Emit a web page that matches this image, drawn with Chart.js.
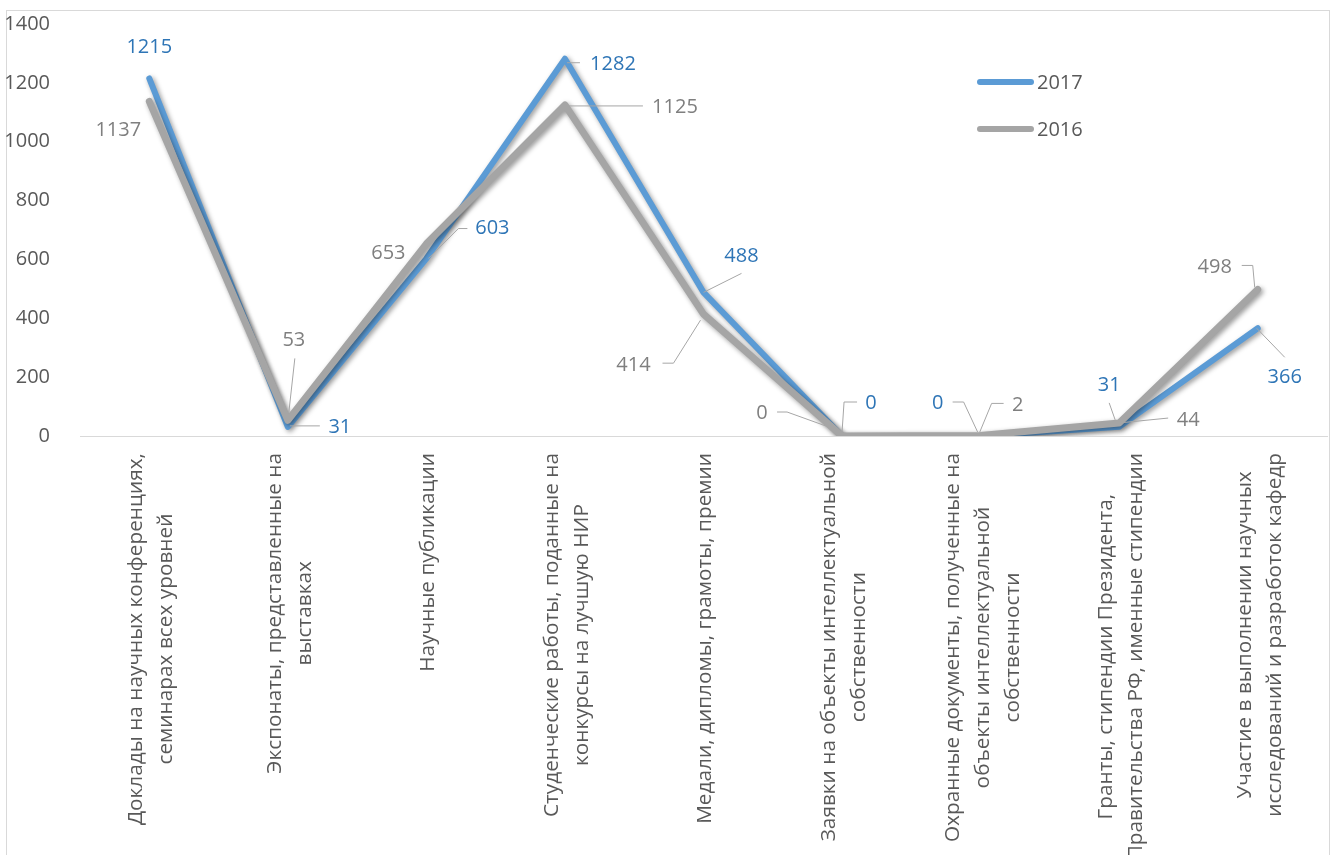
<!DOCTYPE html>
<html>
<head>
<meta charset="utf-8">
<script src="https://cdn.jsdelivr.net/npm/chart.js@4/dist/chart.umd.min.js"></script>
<style>
  html, body { margin: 0; padding: 0; background: #fff; }
  #wrap { width: 1337px; height: 855px; position: relative; }
</style>
</head>
<body>
<div id="wrap"><canvas id="chart"></canvas></div>
<script>
'use strict';

const categories = [
  ['Доклады на научных конференциях,', 'семинарах всех уровней'],
  ['Экспонаты, представленные на', 'выставках'],
  ['Научные публикации'],
  ['Студенческие работы, поданные на', 'конкурсы на лучшую НИР'],
  ['Медали, дипломы, грамоты, премии'],
  ['Заявки на объекты интеллектуальной', 'собственности'],
  ['Охранные документы, полученные на', 'объекты интеллектуальной', 'собственности'],
  ['Гранты, стипендии Президента,', 'Правительства РФ, именные стипендии'],
  ['Участие в выполнении научных', 'исследований и разработок кафедр'],
];
const values2017 = [1215, 31, 603, 1282, 488, 0, 0, 31, 366];
const values2016 = [1137, 53, 653, 1125, 414, 0, 2, 44, 498];
const yTicks = [0, 200, 400, 600, 800, 1000, 1200, 1400];

const FONT = '"Open Sans", "DejaVu Sans", sans-serif';
const BLUE = '#5B9BD5';
const GRAY = '#A5A5A5';

// label placement: [dx, dy] of label centre from the point, and leader path (relative to the point)
const labelLayout = {
  '2017': {
    color: '#2E75B6',
    pos: [[0, -31], [52, 0], [66, -30], [48, 6], [38, -36], [29, -33], [-43, -33], [-10, -42], [27, 49]],
    leaders: [
      null,
      [[2, -1], [32, -1]],
      [[2, 0], [32, -30], [41, -30]],
      [[2, 4], [15, 4]],
      [[0, 0], [38, -19]],
      [[0, -4], [2, -34], [15, -34]],
      [[-28, -34], [-17, -34], [-3, -4]],
      [[-10, -24], [-4, -7]],
      [[-1, 0], [27, 29]],
    ],
  },
  '2016': {
    color: '#7F7F7F',
    pos: [[-31, 29], [6, -80], [-38, 9], [110, 2], [-70, 51], [-80, -23], [37, -30], [69, -3], [-43, -22]],
    leaders: [
      null,
      [[7, -62], [1, -8]],
      null,
      [[0, 1], [78, 1]],
      [[-41, 49], [-30, 49], [-3, 6]],
      [[-65, -24], [-55, -24], [-5, -6]],
      [[-1, -3], [11, -32], [23, -32]],
      [[-1, 0], [49, -5]],
      [[-16, -24], [-5, -24], [-3, -2]],
    ],
  },
};

const shadowPlugin = {
  id: 'lineShadow',
  beforeDatasetDraw(chart) {
    const ctx = chart.ctx;
    ctx.save();
    ctx.shadowColor = 'rgba(0, 0, 0, 0.4)';
    ctx.shadowBlur = 5;
    ctx.shadowOffsetX = 2;
    ctx.shadowOffsetY = 2;
  },
  afterDatasetDraw(chart) {
    chart.ctx.restore();
  },
};

const frameAndLabelsPlugin = {
  id: 'frameAndLabels',
  beforeDraw(chart) {
    const ctx = chart.ctx;
    ctx.save();
    ctx.strokeStyle = '#D9D9D9';
    ctx.lineWidth = 1;
    ctx.strokeRect(6.5, 10.5, 1323, 900);
    ctx.restore();
  },
  afterDatasetsDraw(chart) {
    const ctx = chart.ctx;
    ctx.save();
    ctx.font = '20px ' + FONT;
    ctx.textAlign = 'center';
    ctx.textBaseline = 'middle';
    chart.data.datasets.forEach((ds, di) => {
      const lay = labelLayout[ds.label];
      const meta = chart.getDatasetMeta(di);
      meta.data.forEach((pt, i) => {
        const leader = lay.leaders[i];
        if (leader) {
          ctx.strokeStyle = '#A6A6A6';
          ctx.lineWidth = 1;
          ctx.beginPath();
          leader.forEach((p, k) => {
            if (k === 0) ctx.moveTo(pt.x + p[0], pt.y + p[1]);
            else ctx.lineTo(pt.x + p[0], pt.y + p[1]);
          });
          ctx.stroke();
        }
        ctx.fillStyle = lay.color;
        ctx.fillText(String(ds.data[i]), pt.x + lay.pos[i][0], pt.y + lay.pos[i][1]);
      });
    });
    ctx.restore();
  },
  afterDraw(chart) {
    const ctx = chart.ctx;
    const x = chart.scales.x;
    ctx.save();
    // category labels, rotated and centred line by line
    ctx.font = '20.8px ' + FONT;
    ctx.fillStyle = '#595959';
    ctx.textAlign = 'center';
    ctx.textBaseline = 'middle';
    categories.forEach((lines, i) => {
      const px = x.getPixelForValue(i);
      const w = Math.max(...lines.map(l => ctx.measureText(l).width));
      ctx.save();
      ctx.translate(px + 2, x.top + 17 + w / 2);
      ctx.rotate(-Math.PI / 2);
      lines.forEach((l, j) => ctx.fillText(l, 0, (j - (lines.length - 1) / 2) * 30));
      ctx.restore();
    });
    // legend
    const items = [['2017', BLUE, 82], ['2016', GRAY, 129]];
    ctx.font = '20px ' + FONT;
    ctx.textAlign = 'left';
    items.forEach(([name, color, y]) => {
      ctx.strokeStyle = color;
      ctx.lineWidth = 6;
      ctx.lineCap = 'round';
      ctx.beginPath();
      ctx.moveTo(980, y);
      ctx.lineTo(1031, y);
      ctx.stroke();
      ctx.fillStyle = '#595959';
      ctx.fillText(name, 1037, y + 1);
    });
    ctx.restore();
  },
};

new Chart(document.getElementById('chart'), {
  type: 'line',
  data: {
    labels: categories,
    datasets: [
      {
        label: '2017',
        data: values2017,
        borderColor: BLUE,
        borderWidth: 6,
        order: 1,
      },
      {
        label: '2016',
        data: values2016,
        borderColor: GRAY,
        borderWidth: 7,
        order: 0,
      },
    ],
  },
  options: {
    responsive: true,
    maintainAspectRatio: false,
    animation: false,
    layout: { padding: { top: 24, right: 10, left: 0, bottom: 0 } },
    elements: {
      point: { radius: 0, hoverRadius: 0 },
      line: { tension: 0, borderJoinStyle: 'round', borderCapStyle: 'round', fill: false },
    },
    plugins: {
      legend: { display: false },
      tooltip: { enabled: false },
    },
    scales: {
      x: {
        offset: true,
        grid: { display: false },
        border: { display: true, color: '#D9D9D9', width: 1 },
        ticks: { display: false },
        afterFit(scale) { scale.height = 419; },
      },
      y: {
        min: 0,
        max: 1400,
        grid: { display: false },
        border: { display: false },
        afterBuildTicks(scale) { scale.ticks = yTicks.map(v => ({ value: v })); },
        afterFit(scale) {
          scale.width = 80;
          scale.paddingTop = 0;
          scale.paddingBottom = 0;
        },
        ticks: {
          padding: 22,
          color: '#595959',
          font: { family: FONT, size: 20 },
          callback: v => String(v),
        },
      },
    },
  },
  plugins: [shadowPlugin, frameAndLabelsPlugin],
});
</script>
</body>
</html>
